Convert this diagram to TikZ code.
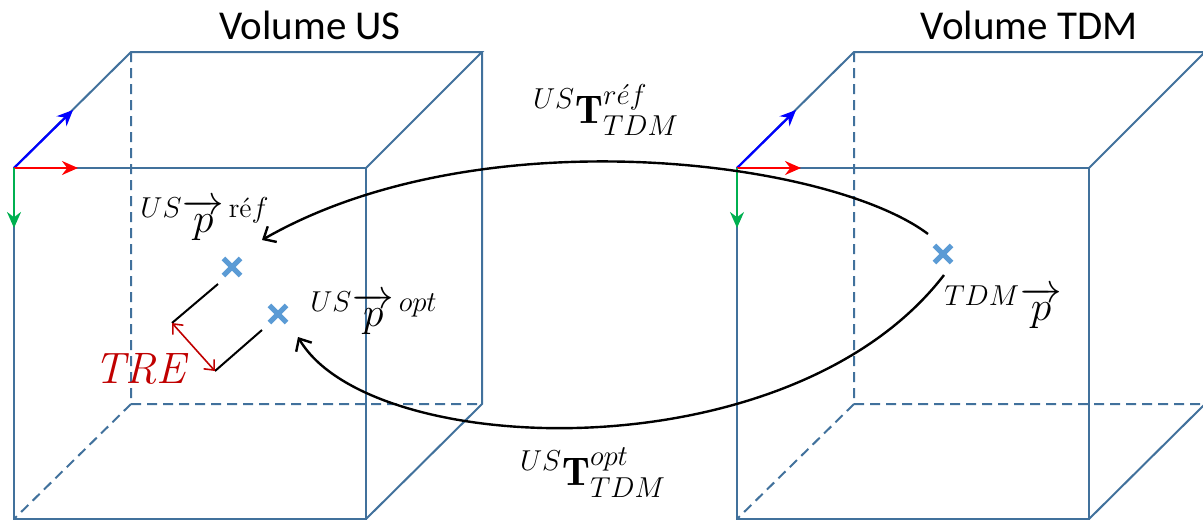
\documentclass[tikz,border=0pt]{standalone}
\usepackage{amsmath}
\usepackage{fontspec}
\setsansfont{Carlito}
\usetikzlibrary{shapes.misc, calc, arrows.meta}

\definecolor{cubeblue}{RGB}{65,113,156}
\definecolor{ptblue}{RGB}{91,155,213}
\definecolor{axred}{RGB}{255,0,0}
\definecolor{axblue}{RGB}{0,0,255}
\definecolor{axgreen}{RGB}{0,176,80}
\definecolor{trered}{RGB}{192,0,0}

\tikzset{
  cube/.style={draw=cubeblue, line width=1pt},
  hidden/.style={cube, dash pattern=on 5pt off 3pt},
  axis/.style={line width=1.1pt, -{Stealth[length=8pt, width=7pt]}},
  pt/.style={cross out, draw=ptblue, line width=2.6pt, minimum size=6pt, inner sep=0pt},
  vol/.style={font=\sffamily\fontsize{20.5}{24}\selectfont},
  lab/.style={font=\fontsize{20}{24}\selectfont, inner sep=0pt},
  tre/.style={font=\fontsize{22}{26}\selectfont, text=trered},
  link/.style={line width=1.2pt, -{Straight Barb[length=5pt, width=9pt]}},
  ext/.style={line width=1pt},
  dim/.style={draw=trered, line width=0.8pt, {Straight Barb[length=4pt, width=7pt]}-{Straight Barb[length=4pt, width=7pt]}}
}

\begin{document}
\begin{tikzpicture}[x=0.5pt, y=-0.5pt]
  \useasboundingbox (0,0) rectangle (1203,520);
  % the two volumes, same cube shifted
  \foreach \dx in {0,723}{
    \begin{scope}[shift={(\dx,0)}]
      % hidden edges
      \draw[hidden] (131,52) -- (131,404) -- (482,404) (131,404) -- (14,519);
      % visible edges
      \draw[cube] (14,168) rectangle (366,519);
      \draw[cube] (14,168) -- (131,52) -- (482,52) -- (366,168) (482,52) -- (482,404) -- (366,519);
      % frame of the volume
      \coordinate (o) at (14,168);
      \draw[axis, axblue] (o) -- ++(59,-58);
      \draw[axis, axred] (o) -- ++(64,0);
      \draw[axis, axgreen] (o) -- ++(0,60);
    \end{scope}
  }
  \node[vol] (tus) at (310,25) {Volume US};
  \node[vol] (ttdm) at (1029,25) {Volume TDM};

  % points
  \node[pt] (pref) at (232,267) {};
  \node[pt] (popt) at (278,314) {};
  \node[pt] (ptdm) at (943,254) {};
  \node[lab] (lref) at (205,219) {${}^{US}\overrightarrow{p}^{\,\text{ré}f}$};
  \node[lab] (lopt) at (374,313) {${}^{US}\overrightarrow{p}^{\,opt}$};
  \node[lab] (ltdm) at (1003,307) {${}^{TDM}\overrightarrow{p}$};

  % transforms
  \coordinate (s1) at ($(ptdm)+(-15,-20)$);
  \coordinate (s2) at ($(ptdm)+(1,21)$);
  \coordinate (cref) at (262,240);
  \coordinate (copt) at (298,337);
  \draw[link] (s1) .. controls (830,160) and (480,115) .. (cref);
  \draw[link] (s2) .. controls (790,475) and (370,460) .. (copt);
  \node[lab] (tref) at (606,110) {${}^{US}\mathbf{T}^{r\acute{e}f}_{TDM}$};
  \node[lab] (topt) at (593,473) {${}^{US}\mathbf{T}^{opt}_{TDM}$};

  % registration error
  \draw[ext] ($(pref)+(-14,17)$) -- ++(-46,39) coordinate (a2);
  \draw[ext] ($(popt)+(-16,16)$) -- ++(-47,41) coordinate (b2);
  \draw[dim] (a2) -- (b2);
  \node[tre] (tre) at (140,369) {$\mathit{TRE}$};
\end{tikzpicture}
\end{document}
